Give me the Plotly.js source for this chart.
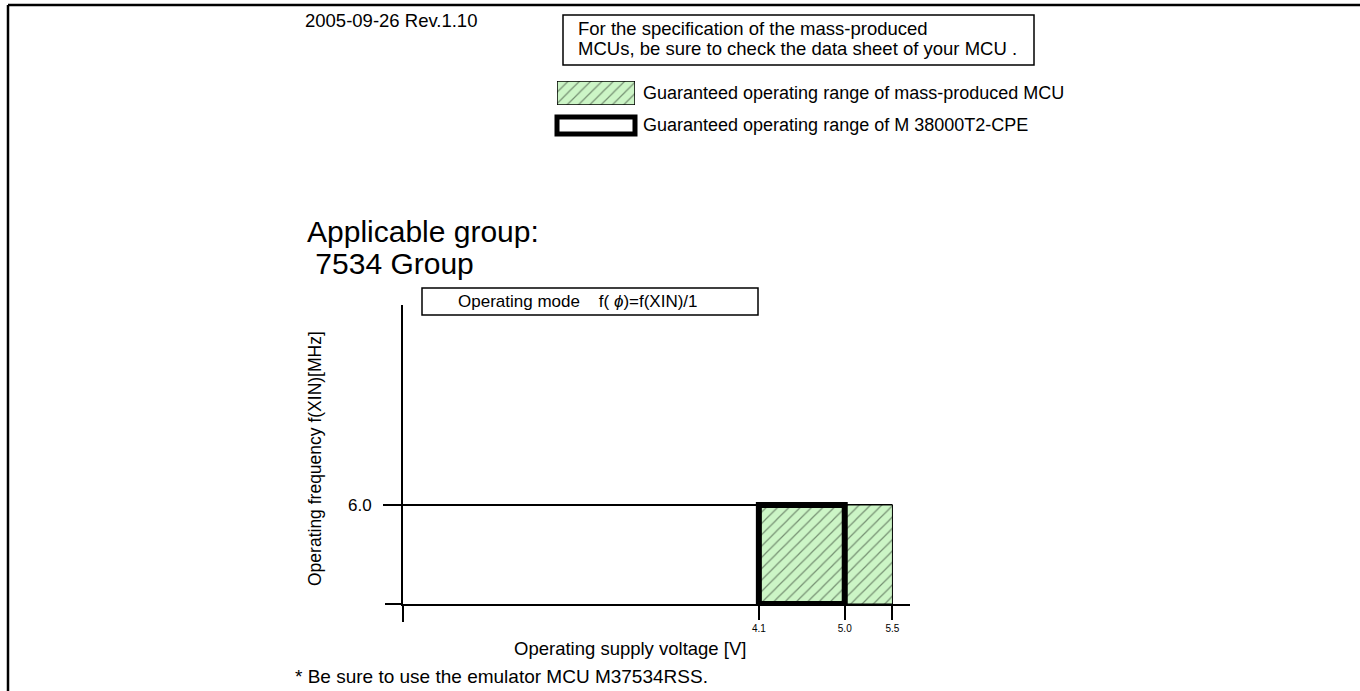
<!DOCTYPE html>
<html><head><meta charset="utf-8">
<script src="https://cdn.plot.ly/plotly-3.0.1.min.js"></script>
<style>html,body{margin:0;padding:0;background:#fff;}#chart{width:1360px;height:691px;}</style>
</head><body><div id="chart"></div>
<script>
// ---- data ----
const voltageTicks = [4.1, 5.0, 5.5];
const voltageTickLabels = ['4.1', '5.0', '5.5'];
const freqTicks = [6.0];
const freqTickLabels = ['6.0'];
const massProducedVoltage = [4.1, 5.5];
const emulatorVoltage = [4.1, 5.0];
const frequencyRange = [0, 6.0];

// ---- helpers (layout only) ----
const W = 1360, H = 691;
const px = v => v / W;
const py = v => 1 - v / H;
const FONT = 'Liberation Sans, Arial, sans-serif';
const xRange = [0.370, 5.684];
const yRange = [0, 18.12];

const greenMarker = {
  color: '#ccf5c6',
  line: {color: '#000', width: 1},
  pattern: {shape: '/', fgcolor: '#1e2a1e', size: 8, solidity: 0.15, fillmode: 'overlay'}
};

const traces = [
  {
    type: 'bar', x: [(massProducedVoltage[0] + massProducedVoltage[1]) / 2],
    y: [frequencyRange[1] - frequencyRange[0]], base: [frequencyRange[0]],
    width: [massProducedVoltage[1] - massProducedVoltage[0]],
    marker: greenMarker, hoverinfo: 'skip', showlegend: false
  },
  {
    type: 'bar', x: [(emulatorVoltage[0] + emulatorVoltage[1]) / 2],
    y: [frequencyRange[1] - frequencyRange[0]], base: [frequencyRange[0]],
    width: [emulatorVoltage[1] - emulatorVoltage[0]],
    marker: {color: 'rgba(0,0,0,0)', line: {color: '#000', width: 6}},
    hoverinfo: 'skip', showlegend: false, cliponaxis: false
  },
  {
    type: 'bar', x: [0.5], y: [1], width: [1], xaxis: 'x2', yaxis: 'y2',
    marker: Object.assign({}, greenMarker, {line: {color: '#000', width: 1.5}}),
    hoverinfo: 'skip', showlegend: false, cliponaxis: false
  }
];

const ann = (text, x, y, size, opts) => Object.assign({
  text: text, xref: 'paper', yref: 'paper', x: px(x), y: py(y),
  xanchor: 'left', yanchor: 'middle', showarrow: false,
  font: {family: FONT, size: size, color: '#000'}
}, opts || {});

const line = (x0, y0, x1, y1, w) => ({
  type: 'line', xref: 'paper', yref: 'paper',
  x0: px(x0), y0: py(y0), x1: px(x1), y1: py(y1),
  line: {color: '#000', width: w}
});
const rect = (x0, y0, x1, y1, w) => ({
  type: 'rect', xref: 'paper', yref: 'paper',
  x0: px(x0), y0: py(y0), x1: px(x1), y1: py(y1),
  line: {color: '#000', width: w}, fillcolor: 'rgba(255,255,255,0)'
});

const layout = {
  width: W, height: H,
  margin: {l: 0, r: 0, t: 0, b: 0},
  paper_bgcolor: '#fff', plot_bgcolor: 'rgba(0,0,0,0)',
  barmode: 'overlay',
  showlegend: false,
  xaxis: {
    domain: [px(403), px(910)], range: xRange, anchor: 'y',
    showgrid: false, zeroline: false,
    showline: true, linecolor: '#000', linewidth: 2,
    ticks: 'outside', ticklen: 14, tickwidth: 2, tickcolor: '#000',
    tickvals: voltageTicks, ticktext: voltageTickLabels,
    tickfont: {family: FONT, size: 10, color: '#000'}
  },
  yaxis: {
    domain: [py(604), py(305)], range: yRange, anchor: 'x',
    showgrid: false, zeroline: false,
    showline: true, linecolor: '#000', linewidth: 2,
    ticks: 'outside', ticklen: 18, tickwidth: 2, tickcolor: '#000',
    tickvals: freqTicks, ticktext: freqTickLabels, ticklabelstandoff: 8,
    tickfont: {family: FONT, size: 17, color: '#000'}
  },
  xaxis2: {domain: [px(557), px(635)], range: [0, 1], anchor: 'y2', visible: false, fixedrange: true},
  yaxis2: {domain: [py(105), py(81)], range: [0, 1], anchor: 'x2', visible: false, fixedrange: true},
  shapes: [
    line(8, 5, 1360, 5, 2.5),
    line(8, 5, 8, 691, 2.5),
    rect(563, 15, 1034, 65, 1.5),
    Object.assign(rect(557, 117, 635, 134, 5), {fillcolor: '#fff'}),
    rect(422, 288, 758, 315, 1.5),
    line(403, 604, 403, 622, 2),
    line(385, 604, 403, 604, 2),
    {type: 'line', xref: 'x', yref: 'y', x0: xRange[0], x1: massProducedVoltage[1],
     y0: frequencyRange[1], y1: frequencyRange[1], line: {color: '#000', width: 2}, layer: 'below'}
  ],
  annotations: [
    ann('2005-09-26 Rev.1.10', 303, 20, 18.5),
    ann('For the specification of the mass-produced', 576, 28, 18.5),
    ann('MCUs, be sure to check the data sheet of your MCU .', 576, 48, 18.5),
    ann('Guaranteed operating range of mass-produced MCU', 641, 93, 18),
    ann('Guaranteed operating range of M 38000T2-CPE', 641, 125, 18),
    ann('Applicable group:', 305, 231, 30),
    ann(' 7534 Group', 305, 264, 30),
    ann('Operating mode    f( <i>ϕ</i>)=f(XIN)/1', 456, 301, 17),
    ann('Operating frequency f(XIN)[MHz]', 315, 459, 17.5, {xanchor: 'center', textangle: -90}),
    ann('Operating supply voltage [V]', 630, 648, 18.5, {xanchor: 'center'}),
    ann('* Be sure to use the emulator MCU M37534RSS.', 293, 676, 19)
  ]
};

Plotly.newPlot('chart', traces, layout, {staticPlot: true, displayModeBar: false});
</script>
</body></html>
